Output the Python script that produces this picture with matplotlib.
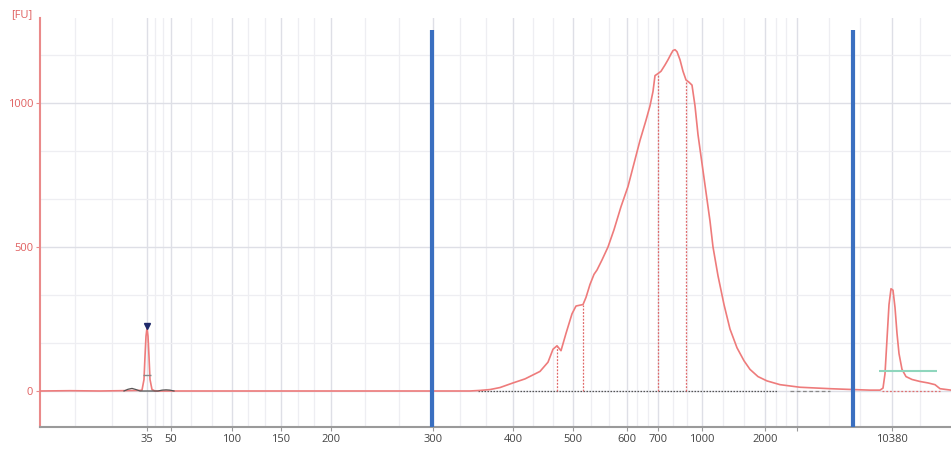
import numpy as np
import matplotlib.pyplot as plt

# Положення міток на осі (час міграції, умовні одиниці) та підписи в bp
tick_pos = [147, 171, 232, 281, 331, 433, 513, 573, 627, 658, 702, 765, 797, 892]
tick_lab = ['35', '50', '100', '150', '200', '300', '400', '500', '600', '700',
            '1000', '2000', '', '10380']

# Електрофореграма: час та флуоресценція [FU]
t = [40, 70, 100, 120, 140, 142, 144, 145, 146, 147, 148, 149, 150, 152, 155,
     200, 300, 432, 470, 480, 490, 500, 513, 525, 540, 548, 553, 557, 561, 566,
     572, 576, 580, 583, 586, 590, 594, 597, 602, 608, 614, 621, 628, 634, 640,
     646, 650, 653, 655, 658, 661, 665, 668, 671, 673, 675, 677, 680, 683, 686,
     689, 692, 695, 698, 702, 706, 710, 713, 718, 724, 730, 737, 744, 750, 758,
     767, 780, 800, 830, 853, 870, 880, 883, 885, 887, 889, 891, 893, 895, 897,
     899, 902, 906, 912, 920, 928, 935, 940, 951]
fu = [0, 1, 0, 1, 2, 3, 40, 120, 190, 219, 190, 120, 40, 5, 0,
      0, 0, 0, 0, 2, 5, 12, 28, 42, 68, 100, 145, 157, 140, 200,
      268, 295, 298, 300, 325, 370, 405, 420, 455, 500, 560, 640, 710, 790, 870,
      940, 990, 1040, 1095, 1102, 1110, 1132, 1150, 1170, 1182, 1185, 1178, 1150, 1110, 1080,
      1072, 1062, 990, 890, 790, 690, 590, 500, 400, 300, 215, 150, 105, 75, 50,
      35, 22, 13, 8, 5, 3, 3, 10, 60, 180, 300, 355, 350, 290, 200,
      130, 75, 50, 40, 33, 28, 22, 8, 3]

# Дрібні піки поруч з маркером
small_t = [124, 128, 132, 136, 140, 158, 162, 166, 170, 174]
small_fu = [0, 6, 9, 5, 0, 0, 3, 4, 3, 0]

# Межі піків (пунктирні вертикалі)
split_t = [557, 583, 658, 686]

# Маркер нижнього маркера, межі діапазону, лінія верхнього маркера
marker_t, marker_fu = 147, 226
range_t = [432, 853]
upper_t = [879, 937]
upper_fu = 69

fig = plt.figure(figsize=(9.51, 4.5), dpi=100)
ax = fig.add_axes([40 / 951, 23 / 450, 911 / 951, 409 / 450])
ax.set_xlim(40, 951)
ax.set_ylim(-125, 1295)

# Сітка: основні лінії на мітках, додаткові - третини інтервалів
minor = [75, 112]
for a, b in zip(tick_pos[:-1], tick_pos[1:]):
    minor += [a + (b - a) / 3, a + 2 * (b - a) / 3]
minor += [920]
for x in minor:
    ax.axvline(x, color='#eeeef2', lw=0.9, zorder=0)
for x in tick_pos:
    ax.axvline(x, color='#dedfe6', lw=1.0, zorder=0)
for y in [500 / 3, 1000 / 3, 2000 / 3, 2500 / 3, 3500 / 3]:
    ax.axhline(y, color='#eeeef2', lw=0.9, zorder=0)
for y in [500, 1000]:
    ax.axhline(y, color='#dedfe6', lw=1.0, zorder=0)
ax.axhline(0, color='#dedfe6', lw=1.0, zorder=0)

# Базові лінії піків
ax.hlines(0, 478, 778, colors='#555555', linestyles=(0, (1.2, 1.2)), lw=0.9, zorder=2)
ax.hlines(0, 790, 830, colors='#888888', linestyles=(0, (3, 2)), lw=0.9, zorder=2)
ax.hlines(0, 882, 940, colors='#e07070', linestyles=(0, (1.5, 1.5)), lw=0.9, zorder=2)

# Крива
ax.plot(t, fu, color='#ee7b7b', lw=1.2, zorder=3)
ax.plot(small_t, small_fu, color='#555555', lw=0.9, zorder=3)

# Межі піків
ax.vlines(split_t, 0, np.interp(split_t, t, fu), colors='#e06868',
          linestyles=(0, (1.5, 1.2)), lw=0.9, zorder=2)

# Нижній маркер
ax.plot(marker_t, marker_fu, marker='v', color='#1f2a6b', ms=5, zorder=5)
ax.hlines(55, marker_t - 4, marker_t + 4, colors='#888888', lw=1.0, zorder=4)

# Верхній маркер
ax.hlines(upper_fu, upper_t[0], upper_t[1], colors='#8fd6bd', lw=1.5, zorder=4)

# Межі діапазону
ax.vlines(range_t, -125, 1253, colors='#3a6fc0', lw=3, zorder=6)

# Осі
for s in ['top', 'right']:
    ax.spines[s].set_visible(False)
ax.spines['left'].set_color('#ea8a8a')
ax.spines['left'].set_linewidth(1.5)
ax.spines['bottom'].set_color('#9a9a9a')
ax.spines['bottom'].set_linewidth(1.5)

ax.set_xticks(tick_pos)
ax.set_xticklabels(tick_lab, fontfamily='Open Sans', fontsize=8, color='#444444')
ax.tick_params(axis='x', length=3, color='#9a9a9a', pad=2)
ax.set_yticks([0, 500, 1000])
ax.set_yticklabels(['0', '500', '1000'], fontfamily='Open Sans', fontsize=8, color='#e06060')
ax.tick_params(axis='y', length=3, color='#ea8a8a', pad=2)

fig.text(22 / 951, 1 - 15 / 450, '[FU]', ha='center', va='center',
         fontfamily='Open Sans', fontsize=8, color='#e06060')

fig.savefig('out.png', dpi=100)
